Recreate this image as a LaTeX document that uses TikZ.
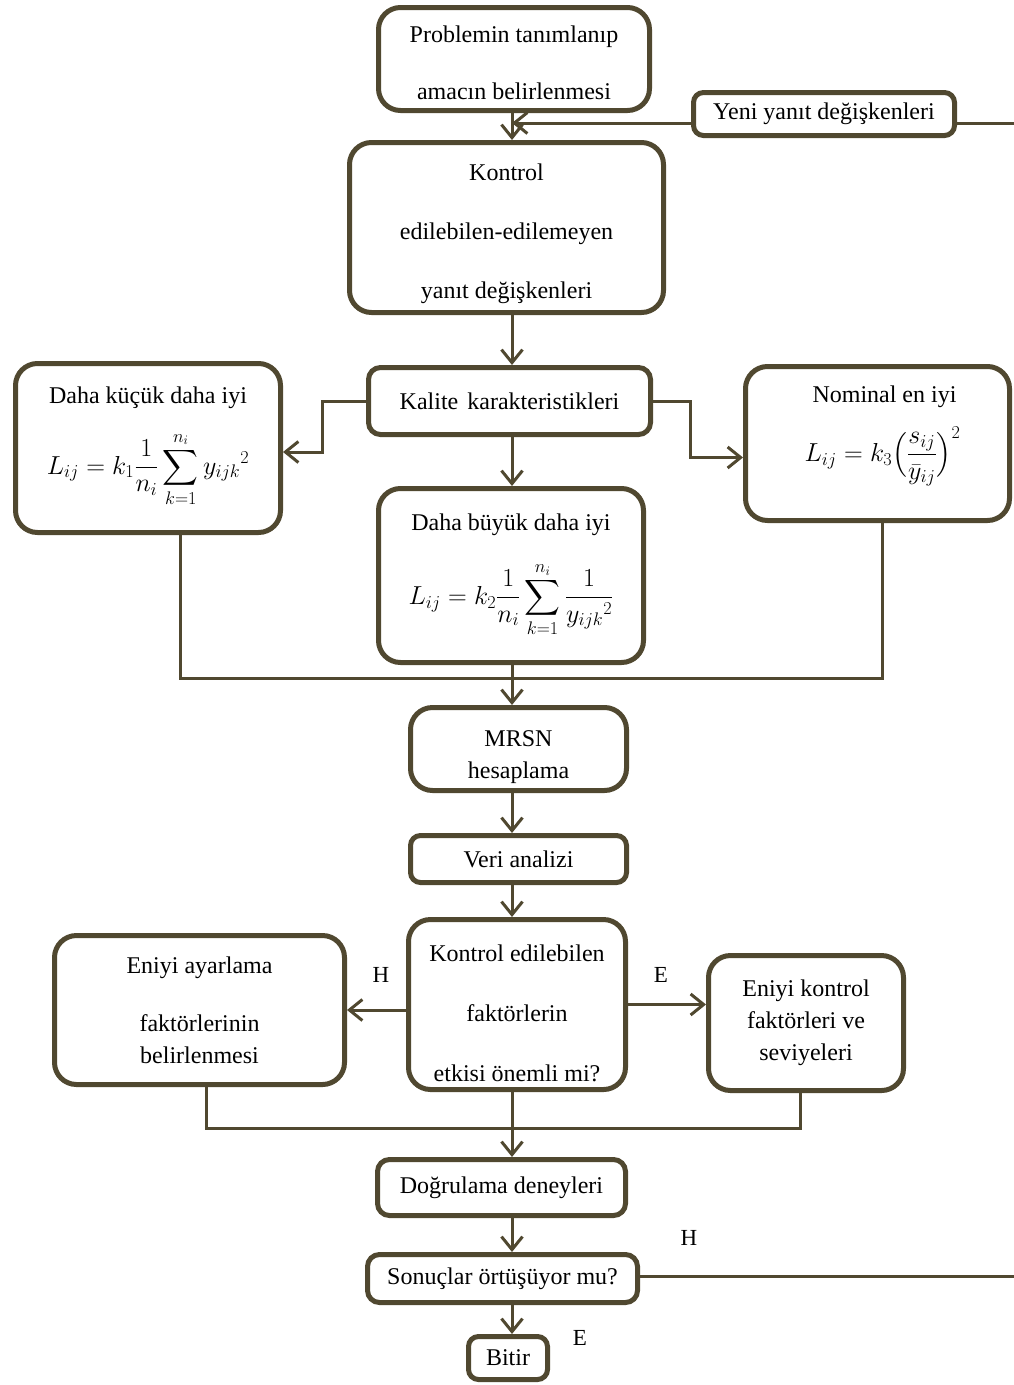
\RequirePackage{fix-cm}
\documentclass[tikz,border=0pt]{standalone}
\usepackage{amsmath}
\usepackage{fontspec}
\setmainfont{Liberation Serif}
\usepackage{tikz}
\usetikzlibrary{arrows.meta, positioning}
\definecolor{colorBorder}{RGB}{80,72,48}
\newcommand{\formfont}{\fontsize{26}{30}\selectfont}
\newcommand{\lowstrut}[1]{\rule{0pt}{#1}}
\tikzset{
  box/.style={draw=colorBorder, line width=5pt, rounded corners=22pt, align=center, inner sep=0pt, font=\fontsize{24}{32}\selectfont},
  smallbox/.style={box, rounded corners=10pt},
  tallbox/.style={box, font=\fontsize{24}{59}\selectfont},
  flow/.style={draw=colorBorder, line width=3pt},
  answer/.style={font=\fontsize{23}{26}\selectfont}
}

\begin{document}
\begin{tikzpicture}[x=1pt, y=-1pt, >={Straight Barb[length=13pt, width=21pt]}]
\useasboundingbox (0,0) rectangle (1014,1385);
\coordinate (spine) at (512,0);
\coordinate (inA) at (512,123);
\coordinate (outA) at (1014,123);
\coordinate (outB) at (1014,1276);
\coordinate (joinA) at (512,678);
\coordinate (joinB) at (512,1128);
\node[tallbox, minimum width=271, minimum height=103, font=\fontsize{24}{57}\selectfont] (prob) at (514,59) {\lowstrut{25pt}Problemin tanımlanıp\\amacın belirlenmesi};
\node[smallbox, minimum width=261, minimum height=43] (yeni) at (824,114) {Yeni yanıt değişkenleri};
\node[tallbox, minimum width=314, minimum height=170] (kontrol) at (506.5,227.5) {\lowstrut{29pt}Kontrol\\edilebilen-edilemeyen\\yanıt değişkenleri};
\node[box, rounded corners=12pt, minimum width=282, minimum height=67] (kalite) at (509.5,401) {Kalite\hspace{3pt} karakteristikleri};
\node[box, minimum width=265, minimum height=169, text depth=35pt] (kucuk) at (148,448) {Daha küçük daha iyi\\[22pt]{\formfont$\displaystyle L_{ij}=k_1\frac{1}{n_i}\sum_{k=1}^{n_i}{y_{ijk}}^2$}};
\node[box, minimum width=264, minimum height=154, text depth=40pt] (nominal) at (877.5,443.5) {\hspace{14pt}Nominal en iyi\\[18pt]\hspace{10pt}{\formfont$\displaystyle L_{ij}=k_3\Bigl(\frac{s_{ij}}{\bar{y}_{ij}}\Bigr)^2$}};
\node[box, minimum width=265, minimum height=174] (buyuk) at (511,575.5) {Daha büyük daha iyi\\[25pt]{\formfont$\displaystyle L_{ij}=k_2\frac{1}{n_i}\sum_{k=1}^{n_i}\frac{1}{{y_{ijk}}^2}$}};
\node[box, minimum width=216, minimum height=83, font=\fontsize{24}{32}\selectfont] (mrsn) at (518.5,749) {\lowstrut{33pt}MRSN\\hesaplama};
\node[smallbox, minimum width=216, minimum height=47] (veri) at (518.5,859) {Veri analizi};
\node[tallbox, minimum width=217, minimum height=170, font=\fontsize{24}{60}\selectfont] (karar) at (517,1004.5) {\lowstrut{35pt}Kontrol edilebilen\\faktörlerin\\etkisi önemli mi?};
\node[box, minimum width=290, minimum height=149] (ayar) at (199.5,1010) {Eniyi ayarlama\\[26pt]faktörlerinin\\belirlenmesi};
\node[box, minimum width=195, minimum height=135, font=\fontsize{24}{32}\selectfont] (eniyi) at (806,1023) {Eniyi kontrol\\faktörleri ve\\seviyeleri};
\node[box, rounded corners=12pt, minimum width=248, minimum height=56] (dogru) at (501.5,1187.5) {Doğrulama deneyleri};
\node[box, rounded corners=12pt, minimum width=270, minimum height=48] (sonuc) at (502.5,1278.5) {Sonuçlar örtüşüyor mu?};
\node[smallbox, minimum width=79, minimum height=43] (bitir) at (508,1358) {Bitir};
\node[answer] (hA) at (381,975) {H};
\node[answer] (eA) at (661,975) {E};
\node[answer] (hB) at (689,1238) {H};
\node[answer] (eB) at (580,1338) {E};
\draw[flow, ->] (prob.south -| spine) -- (kontrol.north -| spine);
\draw[flow, ->] (yeni.west |- inA) -- (inA);
\draw[flow] (yeni.east |- outA) -- (outA);
\draw[flow, ->] (kontrol.south -| spine) -- (kalite.north -| spine);
\draw[flow, ->] (kalite.west) -- ++(-44,0) |- ([yshift=-4pt]kucuk.east);
\draw[flow, ->] (kalite.east) -- ++(37,0) |- ([yshift=-14pt]nominal.west);
\draw[flow, ->] (kalite.south -| spine) -- (buyuk.north -| spine);
\draw[flow] ([xshift=32pt]kucuk.south) |- ([xshift=4.5pt]nominal.south |- joinA) -- ([xshift=4.5pt]nominal.south);
\draw[flow, ->] (buyuk.south -| spine) -- (mrsn.north -| spine);
\draw[flow, ->] (mrsn.south -| spine) -- (veri.north -| spine);
\draw[flow, ->] (veri.south -| spine) -- (karar.north -| spine);
\draw[flow, ->] (karar.west |- ayar.east) -- (ayar.east);
\draw[flow, ->] (karar.east) -- (karar.east -| eniyi.west);
\draw[flow] ([xshift=6.5pt]ayar.south) |- ([xshift=-6pt]eniyi.south |- joinB) -- ([xshift=-6pt]eniyi.south);
\draw[flow, ->] (karar.south -| spine) -- (dogru.north -| spine);
\draw[flow, ->] (dogru.south -| spine) -- (sonuc.north -| spine);
\draw[flow] (sonuc.east |- outB) -- (outB);
\draw[flow, ->] (sonuc.south -| spine) -- (bitir.north -| spine);
\end{tikzpicture}
\end{document}
